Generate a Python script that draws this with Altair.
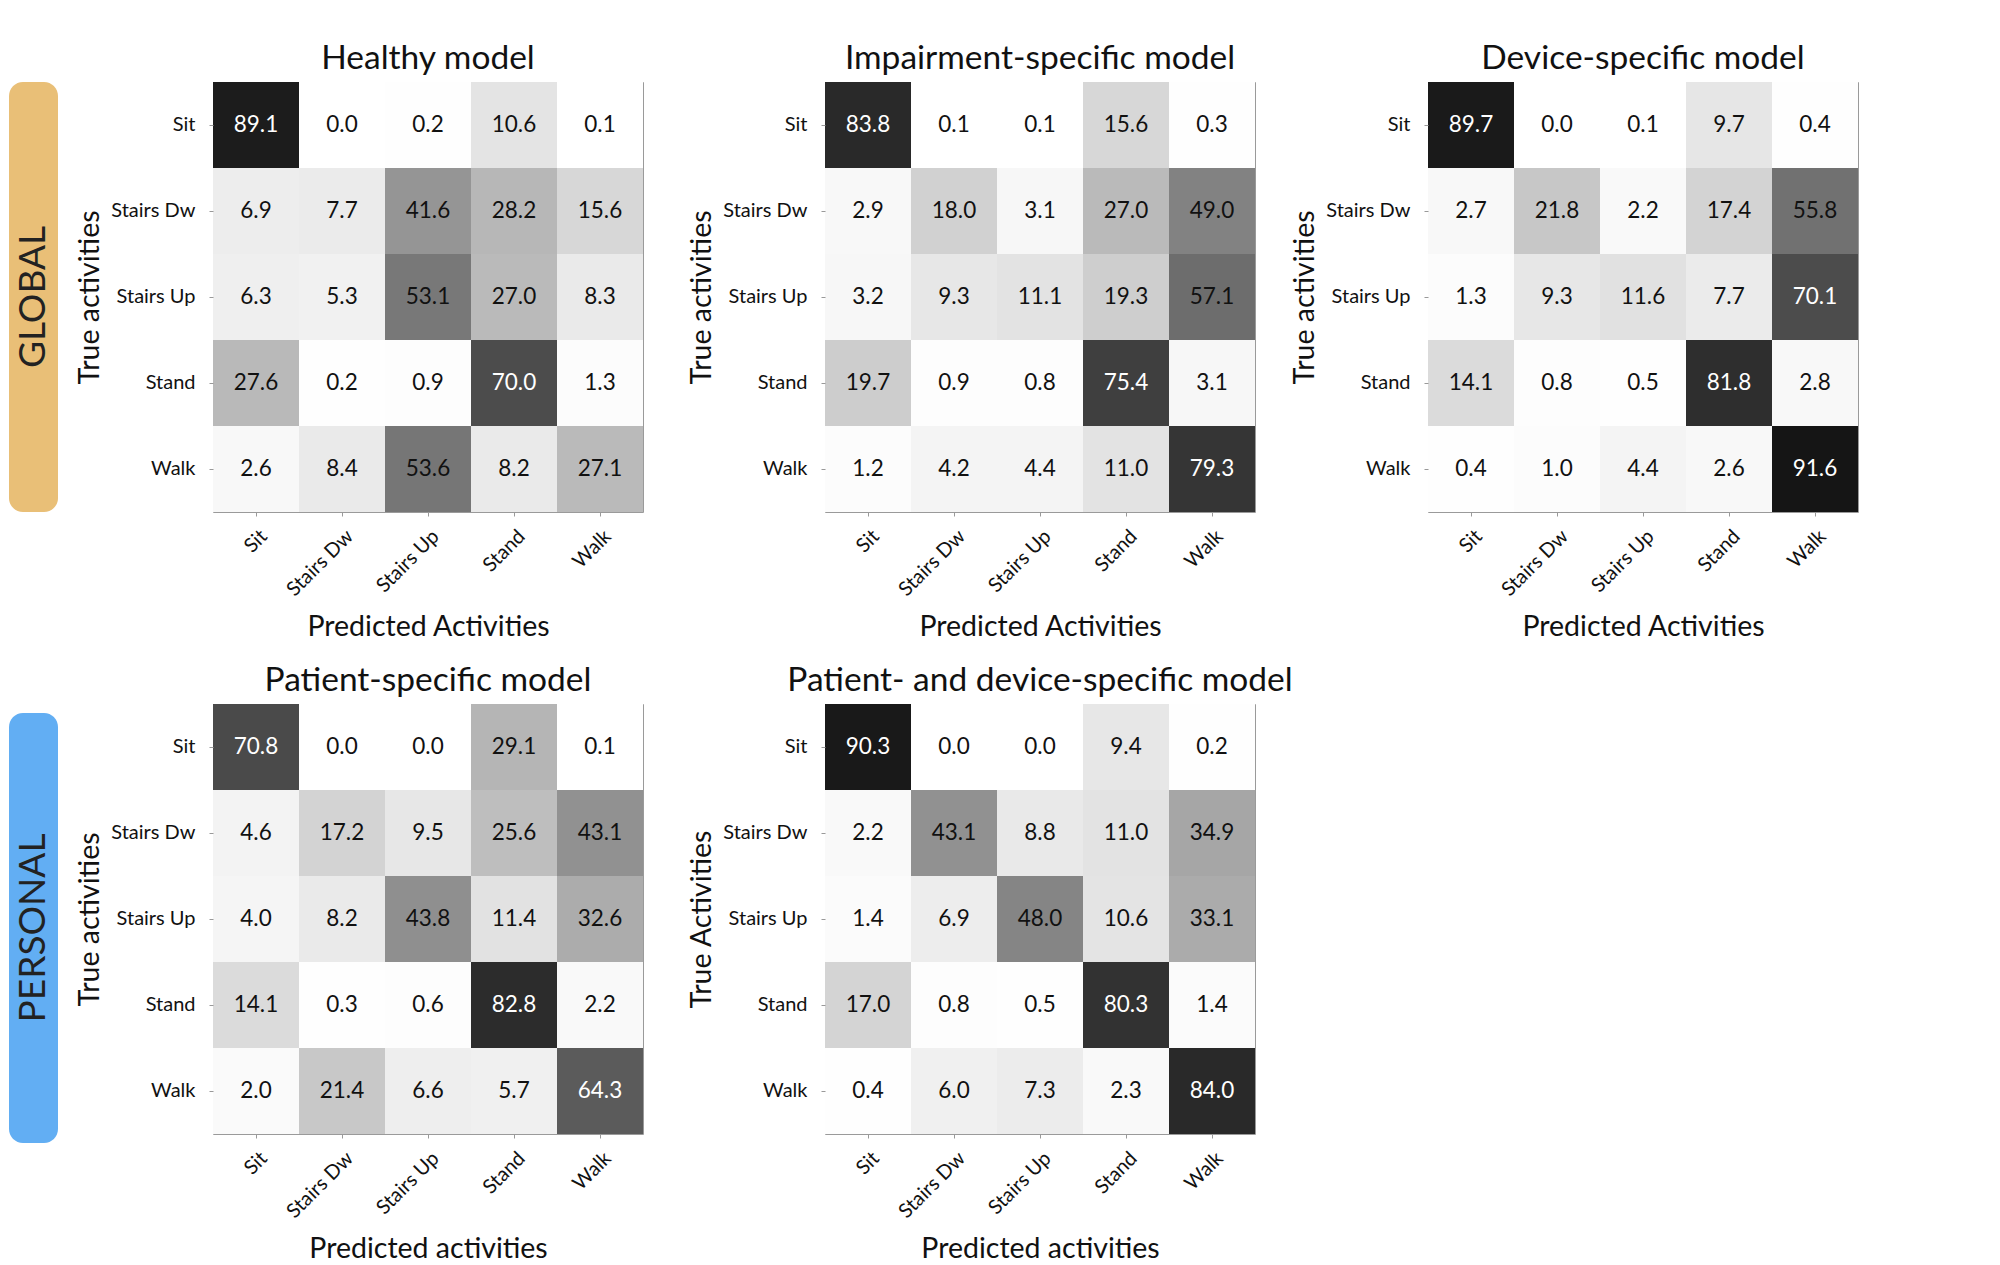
import altair as alt
import pandas as pd

FONT = "Lato"

classes = ["Sit", "Stairs Dw", "Stairs Up", "Stand", "Walk"]

# rows = true activity, columns = predicted activity (percent)
healthy = [
    [89.1, 0.0, 0.2, 10.6, 0.1],
    [6.9, 7.7, 41.6, 28.2, 15.6],
    [6.3, 5.3, 53.1, 27.0, 8.3],
    [27.6, 0.2, 0.9, 70.0, 1.3],
    [2.6, 8.4, 53.6, 8.2, 27.1],
]
impairment = [
    [83.8, 0.1, 0.1, 15.6, 0.3],
    [2.9, 18.0, 3.1, 27.0, 49.0],
    [3.2, 9.3, 11.1, 19.3, 57.1],
    [19.7, 0.9, 0.8, 75.4, 3.1],
    [1.2, 4.2, 4.4, 11.0, 79.3],
]
device = [
    [89.7, 0.0, 0.1, 9.7, 0.4],
    [2.7, 21.8, 2.2, 17.4, 55.8],
    [1.3, 9.3, 11.6, 7.7, 70.1],
    [14.1, 0.8, 0.5, 81.8, 2.8],
    [0.4, 1.0, 4.4, 2.6, 91.6],
]
patient = [
    [70.8, 0.0, 0.0, 29.1, 0.1],
    [4.6, 17.2, 9.5, 25.6, 43.1],
    [4.0, 8.2, 43.8, 11.4, 32.6],
    [14.1, 0.3, 0.6, 82.8, 2.2],
    [2.0, 21.4, 6.6, 5.7, 64.3],
]
patient_device = [
    [90.3, 0.0, 0.0, 9.4, 0.2],
    [2.2, 43.1, 8.8, 11.0, 34.9],
    [1.4, 6.9, 48.0, 10.6, 33.1],
    [17.0, 0.8, 0.5, 80.3, 1.4],
    [0.4, 6.0, 7.3, 2.3, 84.0],
]

groups = ["GLOBAL", "PERSONAL"]
group_colors = ["#E9BF77", "#62AEF3"]

SIZE = 430


def to_long(mat):
    rows = []
    for i, t in enumerate(classes):
        for j, p in enumerate(classes):
            rows.append({"true": t, "pred": p, "value": mat[i][j]})
    return pd.DataFrame(rows)


def heatmap(mat, title, xtitle, ytitle):
    df = to_long(mat)
    band = alt.Scale(paddingInner=0, paddingOuter=0)
    base = alt.Chart(df).encode(
        x=alt.X(
            "pred:N", sort=classes, scale=band, title=xtitle,
            axis=alt.Axis(
                labelAngle=-45, labelAlign="right", labelBaseline="middle",
                labelPadding=17, labelOffset=8, titleY=100, titleBaseline="top",
            ),
        ),
        y=alt.Y(
            "true:N", sort=classes, scale=band, title=ytitle,
            axis=alt.Axis(labelPadding=14, titleX=-124, titleBaseline="middle"),
        ),
    )
    rect = base.mark_rect().encode(
        color=alt.Color(
            "value:Q",
            scale=alt.Scale(domain=[0, 100], range=["#ffffff", "#000000"], interpolate="rgb"),
            legend=None,
        )
    )
    text = base.mark_text(font=FONT, fontSize=22.5).encode(
        text=alt.Text("value:Q", format=".1f"),
        color=alt.condition(alt.datum.value > 60, alt.value("#ffffff"), alt.value("#111111")),
    )
    return (rect + text).properties(
        width=SIZE, height=SIZE,
        title=alt.TitleParams(
            title, font=FONT, fontSize=33.5, fontWeight="normal", color="#111111",
            anchor="middle", frame="group", offset=6,
        ),
    )


def side_band(name, yoff=0):
    df = pd.DataFrame({"group": [name]})
    sc = alt.Scale(paddingInner=0, paddingOuter=0)
    base = alt.Chart(df).encode(
        x=alt.X("group:N", axis=None, scale=sc),
        y=alt.Y("group:N", axis=None, scale=sc),
    )
    rect = base.mark_rect(cornerRadius=14, yOffset=yoff).encode(
        color=alt.Color("group:N", scale=alt.Scale(domain=groups, range=group_colors), legend=None)
    )
    txt = base.mark_text(angle=270, font=FONT, fontSize=37, fontWeight="normal",
                         color="#222222", yOffset=yoff).encode(text="group:N")
    return (rect + txt).properties(
        width=49, height=SIZE, view=alt.ViewBackground(stroke="transparent")
    )


h1 = heatmap(healthy, "Healthy model", "Predicted Activities", "True activities")
h2 = heatmap(impairment, "Impairment-specific model", "Predicted Activities", "True activities")
h3 = heatmap(device, "Device-specific model", "Predicted Activities", "True activities")
p1 = heatmap(patient, "Patient-specific model", "Predicted activities", "True activities")
p2 = heatmap(patient_device, "Patient- and device-specific model", "Predicted activities", "True Activities")

row1 = alt.hconcat(
    side_band("GLOBAL"),
    alt.hconcat(h1, alt.hconcat(h2, h3, spacing=173, bounds="flush"), spacing=182, bounds="flush"),
    spacing=155, bounds="flush",
)
row2 = alt.hconcat(
    side_band("PERSONAL", 9),
    alt.hconcat(p1, p2, spacing=182, bounds="flush"),
    spacing=155, bounds="flush",
)

chart = alt.vconcat(row1, row2, spacing=22).properties(
    padding={"left": 0, "top": 33, "right": 0, "bottom": 0}
).configure(
    background="white"
).configure_view(
    stroke="#9a9a9a", strokeWidth=1
).configure_axis(
    labelFont=FONT, labelFontSize=20, labelColor="#111111",
    titleFont=FONT, titleFontSize=28.5, titleFontWeight="normal", titleColor="#111111",
    domain=False, tickSize=4, tickColor="#999999", grid=False,
)

chart.save("out.html", embed_options={"renderer": "svg", "actions": False})
